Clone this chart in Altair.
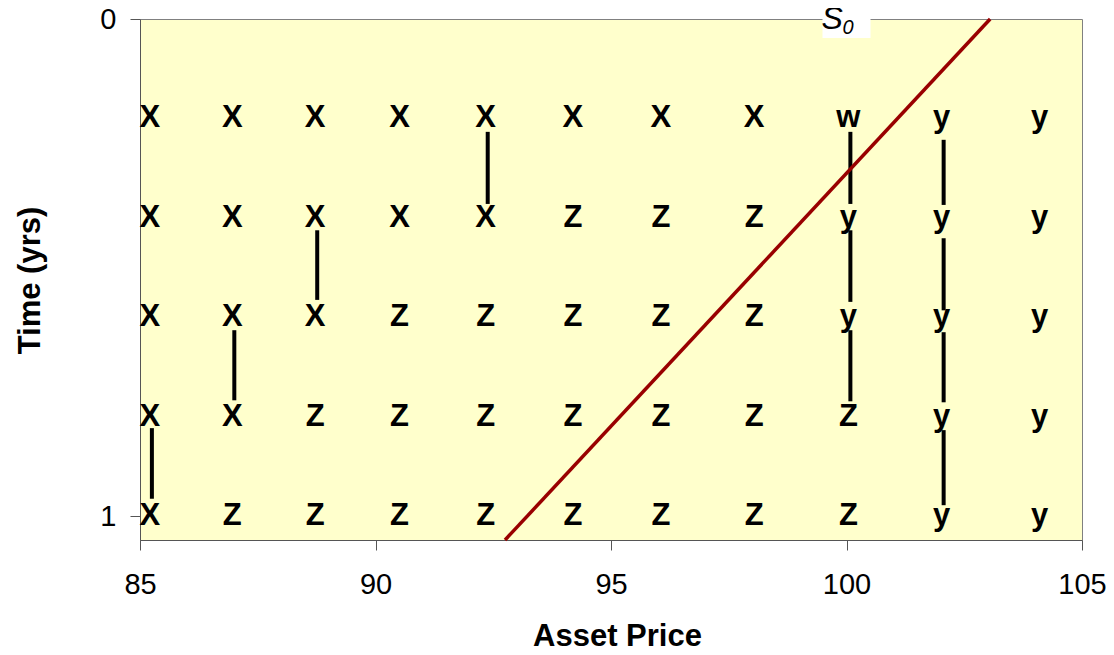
import altair as alt
import pandas as pd

# Grid of asset prices (columns) and times (rows)
prices = [85.21, 86.96, 88.72, 90.51, 92.34, 94.19, 96.06, 98.04, 100.04, 102.02, 104.10]
times = [0.2, 0.4, 0.6, 0.8, 1.0]
grid_rows = [
    ["X", "X", "X", "X", "X", "X", "X", "X", "w", "y", "y"],
    ["X", "X", "X", "X", "X", "Z", "Z", "Z", "y", "y", "y"],
    ["X", "X", "X", "Z", "Z", "Z", "Z", "Z", "y", "y", "y"],
    ["X", "X", "Z", "Z", "Z", "Z", "Z", "Z", "Z", "y", "y"],
    ["X", "Z", "Z", "Z", "Z", "Z", "Z", "Z", "Z", "y", "y"],
]

# Vertical connector segments
seg_price = [85.21, 86.96, 88.72, 92.34, 100.04, 100.04, 100.04, 102.02, 102.02, 102.02, 102.02]
seg_t0 = [0.823, 0.626, 0.425, 0.227, 0.227, 0.425, 0.626, 0.243, 0.441, 0.630, 0.827]
seg_t1 = [0.965, 0.767, 0.565, 0.372, 0.372, 0.569, 0.769, 0.374, 0.586, 0.771, 0.978]

# Boundary line
line_price = [103.05, 92.75]
line_time = [0.0, 1.048]

# S0 marker
s0_price = [100.0]
s0_time = [0.0]

FONT = "Liberation Sans"

letters = pd.DataFrame(
    [
        {"price": p, "time": t, "letter": grid_rows[i][j]}
        for i, t in enumerate(times)
        for j, p in enumerate(prices)
    ]
)
segs = pd.DataFrame({"price": seg_price, "t0": seg_t0, "t1": seg_t1})
line_df = pd.DataFrame({"price": line_price, "time": line_time})
s0_df = pd.DataFrame({"price": s0_price, "time": s0_time})

x_scale = alt.Scale(domain=[85, 105], nice=False, zero=False)
y_scale = alt.Scale(domain=[0, 1.048], reverse=True, nice=False, zero=False)

x_axis = alt.Axis(
    title="Asset Price",
    values=[85, 90, 95, 100, 105],
    grid=False,
    tickSize=10,
    labelPadding=20,
    labelFontSize=29,
    labelFont=FONT,
    labelColor="black",
    labelFlush=False,
    labelOverlap=False,
    titleFont=FONT,
    titleFontSize=31,
    titleFontWeight="bold",
    titleColor="black",
    titleX=477,
    titleY=105,
    titleBaseline="alphabetic",
    titleAlign="center",
    domainColor="#555555",
    tickColor="#555555",
)
y_axis = alt.Axis(
    title="Time (yrs)",
    values=[0, 1],
    format=".0f",
    grid=False,
    tickSize=10,
    labelPadding=14,
    labelFontSize=29,
    labelFont=FONT,
    labelColor="black",
    labelFlush=False,
    labelOverlap=False,
    titleFont=FONT,
    titleFontSize=31,
    titleFontWeight="bold",
    titleColor="black",
    titleX=-110,
    titleY=261,
    titleBaseline="middle",
    titleAlign="center",
    titleAngle=270,
    domainColor="#555555",
    tickColor="#555555",
)

text_layer = alt.Chart(letters).mark_text(
    font=FONT, fontSize=31, fontWeight="bold", color="black", baseline="middle", align="center"
).encode(
    x=alt.X("price:Q", scale=x_scale, axis=x_axis),
    y=alt.Y("time:Q", scale=y_scale, axis=y_axis),
    text="letter:N",
)

seg_layer = alt.Chart(segs).mark_rule(color="black", strokeWidth=4, xOffset=2).encode(
    x=alt.X("price:Q", scale=x_scale),
    y=alt.Y("t0:Q", scale=y_scale),
    y2="t1:Q",
)

line_layer = alt.Chart(line_df).mark_line(color="#990000", strokeWidth=3.5).encode(
    x=alt.X("price:Q", scale=x_scale),
    y=alt.Y("time:Q", scale=y_scale),
)

s0_box = alt.Chart(s0_df).mark_rect(color="white", width=48, height=38).encode(
    x=alt.X("price:Q", scale=x_scale),
    y=alt.Y("time:Q", scale=y_scale),
)
s0_s = alt.Chart(s0_df).mark_text(
    text="S", font=FONT, fontSize=32, fontStyle="italic", color="black",
    align="left", baseline="alphabetic", dx=-25, dy=10,
).encode(
    x=alt.X("price:Q", scale=x_scale),
    y=alt.Y("time:Q", scale=y_scale),
)
s0_sub = alt.Chart(s0_df).mark_text(
    text="0", font=FONT, fontSize=20, fontStyle="italic", color="black",
    align="left", baseline="alphabetic", dx=-4, dy=15,
).encode(
    x=alt.X("price:Q", scale=x_scale),
    y=alt.Y("time:Q", scale=y_scale),
)

chart = (
    alt.layer(text_layer, seg_layer, line_layer, s0_box, s0_s, s0_sub)
    .properties(
        width=942,
        height=521,
        autosize=alt.AutoSizeParams(type="none"),
        padding={"left": 132, "top": 11, "right": 24, "bottom": 112},
        background="white",
    )
    .configure_view(fill="#FFFFCC", stroke="#808080", strokeWidth=1)
)

chart.save("out.html", embed_options={"renderer": "svg", "actions": False})
